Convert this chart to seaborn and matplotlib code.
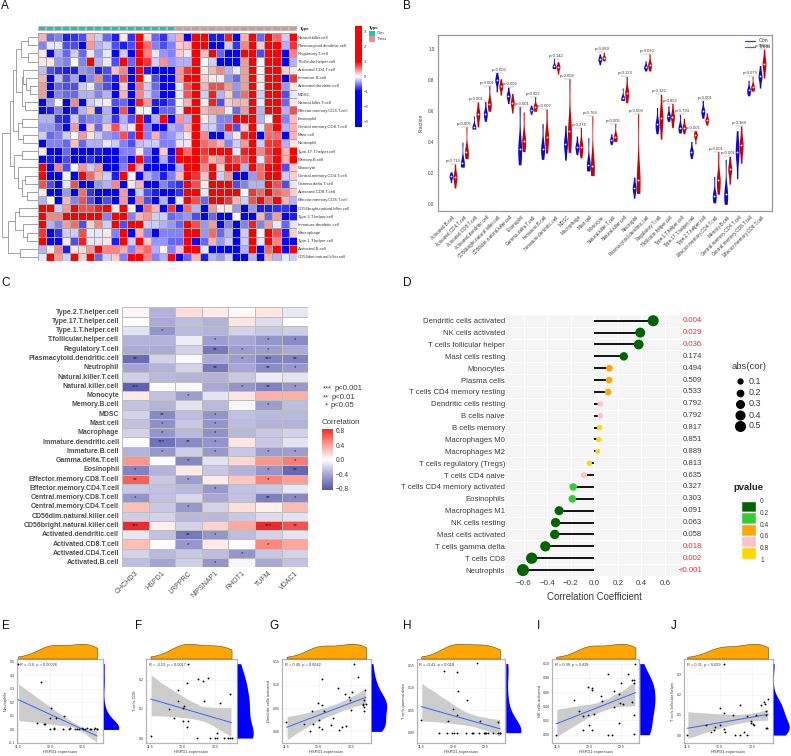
import numpy as np
import pandas as pd
import matplotlib
matplotlib.use('Agg')
import matplotlib.pyplot as plt
from matplotlib.colors import LinearSegmentedColormap, ListedColormap
from matplotlib.patches import Rectangle
import seaborn as sns

sns.set_theme(style='white')
plt.rcParams['font.family'] = ['Liberation Sans', 'DejaVu Sans']

# Panel A
A_ROWS = ['Natural.killer.cell', 'Plasmacytoid.dendritic.cell', 'Regulatory.T.cell', 'T.follicular.helper.cell',
          'Activated.CD4.T.cell', 'Immature.B.cell', 'Activated.dendritic.cell', 'MDSC', 'Natural.killer.T.cell',
          'Effector.memory.CD4.T.cell', 'Eosinophil', 'Central.memory.CD8.T.cell', 'Mast.cell', 'Neutrophil',
          'Type.17.T.helper.cell', 'Memory.B.cell', 'Monocyte', 'Central.memory.CD4.T.cell', 'Gamma.delta.T.cell',
          'Activated.CD8.T.cell', 'Effector.memory.CD8.T.cell', 'CD56bright.natural.killer.cell',
          'Type.2.T.helper.cell', 'Immature.dendritic.cell', 'Macrophage', 'Type.1.T.helper.cell',
          'Activated.B.cell', 'CD56dim.natural.killer.cell']
A_TYPE = [0] * 17 + [1] * 15
A_VALUES = [
    [.3,-.6,-.5,-.9,-.8,-.7,.3,-.2,-.6,-.9,.1,-.8,1.0,.15,-.6,-.8,-.3,.3,-1.5,1.5,1.5,-.9,-.9,.9,-1.2,.3,1.2,-.6,1.2,.6,-.2,1.2],
    [-.5,-.1,-.1,-.7,-.7,-1.2,.4,-.3,-.2,-.7,-.9,-.7,1.1,.6,-.5,-.7,-.5,.2,.25,1.2,1.2,-1.3,-1.3,-.2,-.8,.5,1.2,.2,1.2,1.1,-.3,.8],
    [.1,-1.2,-.3,-.6,-.2,-.6,-.1,-.4,-.1,-1.2,-.2,-1.2,1.2,.5,-.1,-.4,-.5,.2,-.1,1.2,.25,1.2,-.6,-1.3,-1.3,1.2,1.2,-.7,1.2,1.2,-1.3,.5],
    [.1,.1,-.4,-.5,.05,-.5,1.1,-.3,-.1,-.7,1.1,-.6,1.2,.8,-.2,.45,-.4,-.3,-.3,1.2,-.05,-.2,-1.3,-1.3,-1.2,.4,1.2,-.05,1.2,1.2,-1.3,-.3],
    [-.25,-.7,-.8,-.9,-.9,-.4,-.5,-.9,-.7,.25,.5,-1.3,1.2,-.9,-1.0,-1.2,-1.3,.4,.8,1.2,.1,.3,.5,-.3,-.1,.4,1.2,-.05,1.2,1.2,.2,.1],
    [.3,-1.3,-.25,-.7,-.35,-1.3,-.5,.5,-.7,-.9,.7,-1.3,1.3,.05,-.7,-1.0,-1.2,.4,1.0,1.2,.2,.1,.1,-.4,-.6,.4,1.2,.1,1.2,1.2,-1.3,.8],
    [.4,-1.3,-.6,-.7,-.7,-.2,-.1,-.5,-.7,-1.2,.2,-1.2,.6,-.2,-.6,-1.1,-1.2,-.1,.7,1.2,.3,.7,.7,.4,-.4,.4,1.2,.1,1.2,1.2,-.4,.1],
    [.4,-1.3,-.5,-.6,-.6,-.3,-.3,-.5,-.3,-1.1,.3,-1.3,.5,-.2,-.5,-1.1,-1.2,-.1,.7,1.2,-.2,.9,-.3,.2,-.5,.6,1.2,-.2,1.2,1.2,-.7,-.1],
    [-1.3,-.4,-.05,-1.3,.5,-1.3,-.2,-.1,.1,-.7,-.6,-1.3,.9,.4,-.9,-.9,-.7,-.05,.3,1.2,.1,.9,-.7,.2,.3,.3,1.2,-.1,1.2,1.2,-.6,.1],
    [-1.0,-.9,-.5,-1.2,-.8,-.3,.25,-.9,-.3,-1.3,.7,-1.3,.05,-.05,-1.2,-.6,-.6,-.1,1.2,1.2,.3,.4,.4,-.1,-.6,.4,1.2,-.3,1.2,1.2,-.3,.7],
    [-.3,-.3,-.8,-.9,-.2,-.6,-.5,-.5,-.3,-.8,-.3,-.7,1.2,-.9,-.3,1.2,-1.2,.4,-.3,1.2,.1,-.2,-.5,-.5,1.2,1.2,1.2,-.3,.05,1.2,-.5,.25],
    [-.4,-.4,-.6,-1.3,.4,-1.3,.2,-.6,.2,.7,-.2,.1,1.2,-.5,-1.3,-1.3,-.3,-.4,.3,1.2,-.2,-.2,-.5,.9,-.7,.2,1.2,-.1,.6,1.2,-.3,.3],
    [-.2,-.6,-.5,-.2,-.05,.4,.1,-.2,-.4,-.5,.7,-.7,1.2,-.5,.3,-.5,-.4,-.2,.1,1.2,.5,-1.0,-1.0,-.3,.1,.9,1.2,-1.2,.6,.6,-1.3,.3],
    [-1.1,-.5,-.5,-.6,.25,-.6,-.3,-.3,-.1,-.2,-.5,-.7,-.25,-.2,-.2,-.5,-.5,-.1,-.1,1.2,.6,.5,.3,-.5,-.2,.4,1.2,-.2,.8,.8,-.3,.1],
    [.1,-1.3,-1.3,-.6,-1.3,-1.3,-1.3,-.9,-1.3,-1.3,-.5,-.5,.1,-.5,-1.3,.2,-1.3,1.2,.6,1.2,.8,1.2,1.2,1.2,-.1,.9,1.2,.5,.8,1.2,.3,1.2],
    [-1.3,-.9,-1.3,-.7,-1.3,-1.3,-.8,-1.3,-1.3,-1.3,-.6,-1.2,1.2,-.7,-1.3,-.3,-.9,1.2,1.2,1.2,.7,.3,.4,.9,.7,.7,1.2,-.1,.7,1.2,.3,1.2],
    [1.1,-1.3,.5,-.7,.05,.4,-.2,.4,-1.3,-1.3,-.5,1.1,.3,-1.3,-1.1,-1.1,-1.0,-.3,1.2,1.2,.5,1.2,.2,1.2,1.2,-.3,1.2,.6,1.2,1.2,-.7,.2],
    [1.2,-1.3,-1.2,-.05,-1.3,1.1,.6,.3,-.2,-.9,1.2,.05,-1.3,-.3,-.5,-.9,-.5,.25,1.2,.8,.25,1.2,-.2,.4,-1.1,-1.1,-.4,.6,1.2,1.2,-.2,.2],
    [.7,-.7,-1.2,-.1,.7,-1.1,-1.2,-.4,-.3,.5,-1.3,.1,.3,-1.2,-1.2,-.5,-.7,-.8,1.2,.7,.1,1.2,1.2,1.2,-.7,-.5,-.3,-.3,1.2,.7,-.7,-.1],
    [.1,-1.3,-1.2,-.4,-1.1,.6,-.8,-1.1,-1.3,-1.2,.4,-1.3,-.2,-.7,-.9,-1.1,-1.2,-.8,1.2,1.2,-.1,1.0,1.2,1.2,1.2,0,.8,.6,1.2,.6,.5,.2],
    [-.3,0,-1.3,.3,-.5,.7,-.7,-1.3,-.7,-1.2,.4,-1.3,.5,-.7,-1.2,-.3,-1.1,-.1,1.2,.7,-.6,1.2,1.2,.8,.3,-.2,.7,1.2,.6,1.2,.3,-.3],
    [1.3,1.2,-.2,.4,1.2,.7,.7,.9,1.0,.1,1.1,.05,-1.1,.6,.3,-1.2,.8,-1.3,.6,-.3,-1.3,.4,.1,.1,-.4,-1.3,-.4,-.9,-.9,-.8,-.8,-1.3],
    [1.2,.5,.5,1.2,1.0,1.2,1.2,1.2,-.5,1.2,1.2,-.5,.3,.4,-.2,-.2,-.6,-.5,-.4,-.7,-1.2,-.6,-1.3,-1.3,.05,-1.3,-1.3,.3,-.6,.4,-1.3,-.9],
    [1.1,-.3,-.5,.4,.6,-.7,.2,.5,-.2,1.1,-.7,1.2,1.2,-.2,-.2,-.3,-.4,-.6,1.2,.7,-.4,.4,-1.3,-.5,-1.3,-.5,.9,-.5,.4,-.1,-.6,-.1],
    [.8,-1.3,-.8,-.2,-.2,.7,-.1,-.1,.1,-.5,1.2,-1.3,.3,-.5,-1.3,-.5,-.5,-.5,1.2,1.2,-.4,.6,-.6,-.3,-1.3,-.2,1.2,.05,1.1,.7,-.9,.2],
    [1.2,-1.3,-1.2,.1,-.7,.9,-.1,-.1,.1,-.9,1.2,-.2,1.2,.2,-.4,-.4,-.6,-.6,1.2,-1.0,-.6,.3,-.4,-.2,-1.3,-.2,1.2,-.1,1.2,.5,-1.3,-1.2],
    [-.3,.1,.5,-.9,.1,.15,.4,1.0,.5,.5,.3,-.5,.4,.6,-.3,.05,-.5,.25,1.2,1.2,-.1,-1.3,-1.3,-1.3,-1.3,-.3,1.2,-1.3,.6,1.2,-1.3,1.2],
    [-.1,1.0,.4,-.2,1.2,.2,1.2,-.6,-.2,.2,-.5,1.1,1.1,.5,-.5,-.3,1.2,-1.3,-.6,.3,-.9,-.3,-.4,-.2,-1.3,-1.2,-.3,-1.2,.3,-.3,-.1,-.2],
]
# row tree: (merge height, left branch, right branch)
A_TREE = (1.0,
          (.78,
           (.68,
            (.6, (.46, (.27, 0, 1), (.28, 2, 3)),
             (.45, (.42, 4, (.33, 5, (.22, 6, 7))), (.35, 8, 9))),
            (.55, (.45, 10, 11), (.4, 12, 13))),
           (.65, (.45, 14, 15), (.55, 16, (.45, (.35, 17, 18), (.3, 19, 20))))),
          (.82, (.62, (.52, 21, 22), (.42, 23, (.3, 24, 25))), (.5, 26, 27)))

# Panel B
B_CELLS = ['Activated.B.cell', 'Activated.CD4.T.cell', 'Activated.CD8.T.cell', 'Activated.dendritic.cell',
           'CD56bright.natural.killer.cell', 'CD56dim.natural.killer.cell', 'Eosinophil', 'Gamma.delta.T.cell',
           'Immature.B.cell', 'Immature.dendritic.cell', 'MDSC', 'Macrophage', 'Mast.cell', 'Monocyte',
           'Natural.killer.T.cell', 'Natural.killer.cell', 'Neutrophil', 'Plasmacytoid.dendritic.cell',
           'Regulatory.T.cell', 'T.follicular.helper.cell', 'Type.1.T.helper.cell', 'Type.17.T.helper.cell',
           'Type.2.T.helper.cell', 'Effector.memory.CD4.T.cell', 'Memory.B.cell', 'Central.memory.CD4.T.cell',
           'Central.memory.CD8.T.cell', 'Effector.memory.CD8.T.cell']
CON_LOW = [.14,.24,.485,.535,.725,.65,.255,.58,.29,.875,.285,.32,.215,.90,.385,.67,.04,.86,.455,.535,.46,.295,.555,.01,0,.165,.70,.75]
CON_MED = [.18,.265,.50,.585,.80,.70,.36,.61,.36,.89,.39,.37,.255,.935,.415,.685,.105,.885,.515,.57,.495,.34,.60,.055,.065,.34,.735,.825]
CON_HIGH = [.21,.40,.57,.665,.85,.755,.63,.64,.52,.94,.51,.44,.43,.97,.455,.75,.175,.925,.625,.635,.58,.405,.67,.18,.29,.475,.80,.895]
TRT_LOW = [.105,.295,.50,.60,.705,.59,.34,.60,.33,.84,.335,.30,.185,.925,.405,.655,.07,.86,.42,.495,.455,.39,.51,.065,.13,.265,.73,.815]
TRT_MED = [.175,.335,.58,.65,.76,.655,.41,.63,.435,.885,.47,.37,.245,.945,.435,.72,.16,.90,.555,.565,.495,.445,.545,.155,.225,.38,.755,.905]
TRT_HIGH = [.26,.50,.66,.765,.81,.715,.595,.695,.615,.92,.81,.495,.57,.98,.52,.825,.585,.97,.71,.65,.555,.475,.59,.34,.31,.505,.825,1.0]
B_P = ['p=0.716','p=0.005','p=0.001','p=0.001','p=0.003','p=0.002','p=0.001','p=0.027','p=0.007','p=0.142','p=0.004','p=0.276',
       'p=0.764','p=0.089','p=0.005','p=0.123','p=0.003','p=0.030','p=0.132','p=0.852','p=0.794','p=0.001','p=0.001','p=0.001',
       'p=0.001','p=0.389','p=0.079','p=0.004']

# Panel C
C_ROWS = ['Type.2.T.helper.cell', 'Type.17.T.helper.cell', 'Type.1.T.helper.cell', 'T.follicular.helper.cell',
          'Regulatory.T.cell', 'Plasmacytoid.dendritic.cell', 'Neutrophil', 'Natural.killer.T.cell',
          'Natural.killer.cell', 'Monocyte', 'Memory.B.cell', 'MDSC', 'Mast.cell', 'Macrophage',
          'Immature.dendritic.cell', 'Immature.B.cell', 'Gamma.delta.T.cell', 'Eosinophil',
          'Effector.memory.CD8.T.cell', 'Effector.memory.CD4.T.cell', 'Central.memory.CD8.T.cell',
          'Central.memory.CD4.T.cell', 'CD56dim.natural.killer.cell', 'CD56bright.natural.killer.cell',
          'Activated.dendritic.cell', 'Activated.CD8.T.cell', 'Activated.CD4.T.cell', 'Activated.B.cell']
C_GENES = ['CHCHD3', 'HSPD1', 'LRPPRC', 'NIPSNAP1', 'RHOT1', 'TUFM', 'VDAC1']
C_CORR = [
    [.05,-.35,.15,.1,.03,.12,-.1], [0,-.38,-.3,-.35,.12,-.15,0], [-.12,-.5,-.32,-.35,-.2,-.25,-.22],
    [-.35,-.35,-.08,-.45,-.4,-.5,-.55], [-.38,-.38,-.2,-.65,-.45,-.45,-.38], [-.72,-.2,-.02,-.38,-.45,-.6,-.6],
    [-.42,-.35,-.2,-.65,-.4,-.55,-.48], [-.22,-.32,-.35,-.35,-.25,-.08,-.12], [-.78,0,-.02,-.4,-.5,-.6,-.48],
    [.1,-.28,-.45,-.12,.12,.35,.35], [-.28,-.35,-.13,-.32,-.03,-.45,-.3], [-.2,-.55,-.3,-.5,-.28,-.33,-.32],
    [-.28,-.52,-.25,-.5,-.3,-.35,-.35], [-.2,-.5,-.32,-.52,-.33,-.25,-.2], [0,-.68,-.55,-.5,.12,-.25,-.12],
    [-.35,-.48,-.22,-.48,-.25,-.45,-.45], [.45,0,-.58,-.13,.18,.45,.55], [-.6,-.35,.1,-.25,-.35,-.5,-.75],
    [.65,-.25,-.45,.1,.25,.52,.42], [-.25,-.28,-.33,-.48,-.28,-.25,-.1], [-.5,-.28,-.18,-.4,-.28,-.62,-.55],
    [.28,-.25,-.48,-.2,.15,.08,.3], [-.22,-.2,-.33,-.33,-.25,-.15,-.13], [.85,.07,-.2,.2,.38,.85,.7],
    [-.1,-.28,-.65,-.5,-.3,-.2,-.12], [.28,0,-.48,.1,0,.5,.38], [-.2,-.32,-.25,-.3,-.5,-.25,-.2],
    [-.3,-.42,-.22,-.5,-.03,-.4,-.28]]
C_STARS = [
    ['','','','','','',''], ['','','','','','',''], ['','*','','','','',''], ['','','','*','','*','*'],
    ['','','','**','*','*',''], ['**','','','','*','***','**'], ['','','','**','','**','*'], ['','','','','','',''],
    ['***','','','','*','**','*'], ['','','*','','','',''], ['','','','','','*',''], ['','**','','*','','',''],
    ['','*','','*','','',''], ['','*','','*','','',''], ['','***','**','*','','',''], ['','*','','*','','*','*'],
    ['','','*','','','','*'], ['*','','','','','*','**'], ['**','','*','','','*',''], ['','','','*','','',''],
    ['*','','','','','**','*'], ['','','*','','','',''], ['','','','','','',''], ['***','','','','','***','**'],
    ['','','**','*','','',''], ['','','*','','','*',''], ['','','','','*','',''], ['','','','*','','','']]

# Panel D
D_CELLS = ['Dendritic cells activated', 'NK cells activated', 'T cells follicular helper', 'Mast cells resting',
           'Monocytes', 'Plasma cells', 'T cells CD4 memory resting', 'Dendritic cells resting', 'B cells naive',
           'B cells memory', 'Macrophages M0', 'Macrophages M2', 'T cells regulatory (Tregs)', 'T cells CD4 naive',
           'T cells CD4 memory activated', 'Eosinophils', 'Macrophages M1', 'NK cells resting',
           'Mast cells activated', 'T cells gamma delta', 'T cells CD8', 'Neutrophils']
D_COR = [.50,.39,.377,.25,.128,.125,.116,.05,.05,.045,.037,.028,-.043,-.088,-.18,-.187,-.30,-.33,-.337,-.417,-.533,-.607]
D_P = ['0.004','0.029','0.036','0.174','0.494','0.509','0.533','0.792','0.792','0.817','0.851','0.889','0.813','0.635',
       '0.327','0.303','0.091','0.063','0.058','0.018','0.002','<0.001']
D_BIN_COLORS = ['#006400', '#32CD32', '#FFA500', '#FFC0CB', '#FFD700']
D_BIN_TICKS = ['0', '0.2', '0.4', '0.6', '0.8', '1']
D_SIZE_LEGEND = [.1, .2, .3, .4, .5]

# Panels E-J, one x and one y list per panel
X_E = [11.5,11.865,12.01,11.79,11.91,11.92,12.005,12.09,12.22,12.0,12.06,12.07,12.2,12.3,12.31,12.39,12.42,12.46,12.5,12.52,12.55,12.58,12.63,12.65,12.69,12.71,12.73,12.74]
Y_E = [.486,.351,.155,.044,.037,.042,.086,.088,.098,0,0,.01,0,0,.01,0,0,0,.01,0,0,.01,0,0,0,.01,0,0]
X_F = [11.5,12.08,12.24,12.31,12.39,12.07,11.92,11.93,12.73,12.58,12.33,12.02,12.0,11.79,11.86,12.0,12.09,12.07,12.22,12.43,12.5,12.53,12.54,12.65,12.71,12.74,12.76]
Y_F = [.007,.256,.202,.195,.208,.189,.167,.128,.15,.122,.127,.11,.104,.10,.07,.059,.059,.037,0,0,0,.016,0,0,0,0,0]
X_G = [11.5,11.86,11.78,11.92,11.9,11.99,12.05,12.06,12.08,12.0,12.01,12.06,12.2,12.22,12.3,12.31,12.37,12.42,12.41,12.47,12.49,12.52,12.5,12.55,12.62,12.69,12.71,12.69,12.72,12.7,12.74,12.71]
Y_G = [.021,0,.017,.016,.045,.062,.113,.057,.045,.025,.009,.006,.014,.028,.094,.003,.009,.011,.08,.074,.067,.085,.047,.146,.118,.057,.067,.059,.09,.044,.058,.053]
X_H = [11.5,11.78,11.86,11.9,11.92,11.99,12.01,12.0,12.06,12.06,12.08,12.07,12.2,12.22,12.31,12.3,12.37,12.41,12.42,12.48,12.5,12.52,12.55,12.62,12.7,12.71,12.73,12.74]
Y_H = [.028,0,.137,0,.026,0,0,.053,.039,.136,.093,0,0,.072,0,0,.154,0,.025,0,0,0,0,0,0,.023,0,0]
X_I = [11.49,11.77,11.85,11.91,11.9,11.98,11.98,12.0,12.05,12.05,12.05,12.07,12.19,12.2,12.29,12.3,12.35,12.39,12.39,12.46,12.47,12.48,12.5,12.53,12.6,12.66,12.66,12.69,12.69,12.7,12.69,12.72]
Y_I = [0,.049,.033,.026,.006,.028,.067,.013,.066,.063,.007,.029,.054,.047,.086,0,0,.061,.039,.016,.057,.044,.073,.043,.086,.077,.046,.073,.077,.027,.001,.1]
X_J = [11.5,11.79,11.87,11.91,11.93,12.0,12.0,12.07,12.07,12.07,12.08,12.21,12.23,12.31,12.31,12.38,12.42,12.42,12.48,12.49,12.51,12.53,12.56,12.64,12.69,12.7,12.71,12.72,12.73,12.72,12.75]
Y_J = [0,.051,.016,.026,.038,.133,.048,.11,.03,.352,.013,.097,0,.148,0,.016,.093,0,.069,.059,.054,.051,.097,.148,.161,.152,.097,.036,.033,.12,.18]

SCATTER_PANELS = [
    (X_E, Y_E, 'Neutrophils', 'R = -0.6, p = 0.00026', [-.1, 0, .1, .2, .3, .4, .5], '{:.1f}'),
    (X_F, Y_F, 'T cells CD8', 'R = -0.53, p = 0.0017', [0, .1, .2], '{:.1f}'),
    (X_G, Y_G, 'Dendritic cells activated', 'R = 0.49, p = 0.0042', [0, .05, .10, .15], '{:.2f}'),
    (X_H, Y_H, 'T cells gamma delta', 'R = -0.41, p = 0.018', [0, .05, .10, .15], '{:.2f}'),
    (X_I, Y_I, 'NK cells activated', 'R = 0.39, p = 0.029', [0, .02, .04, .06, .08, .10], '{:.2f}'),
    (X_J, Y_J, 'T cells follicular helper', 'R = 0.31, p = 0.099', [0, .1, .2, .3], '{:.1f}'),
]
# left, right, right-density end, ymin, ymax, xmin, xmax
SCATTER_BOXES = [(17, 103, 119.5, -.10, .52, 11.484, 12.83), (146, 236.7, 254, -.017, .272, 11.43, 12.84),
                 (282, 370.7, 387.5, -.025, .156, 11.43, 12.81), (416.7, 505.3, 521.7, -.023, .164, 11.43, 12.82),
                 (552.3, 639.3, 655.7, -.0117, .1065, 11.43, 12.78), (684, 772.7, 790, -.039, .375, 11.45, 12.82)]

W, H = 791, 756
fig = plt.figure(figsize=(W / 100, H / 100), dpi=100)
TEXT = '#3a3a3a'


def px_axes(x0, y0, x1, y1):
    return fig.add_axes([x0 / W, 1 - y1 / H, (x1 - x0) / W, (y1 - y0) / H])


def draw_tree(ax, node):
    if not isinstance(node, tuple):
        return node + .5, 0
    h, left, right = node
    y1, h1 = draw_tree(ax, left)
    y2, h2 = draw_tree(ax, right)
    ax.plot([h1, h, h, h2], [y1, y1, y2, y2], color='#888888', lw=.55, solid_joinstyle='miter')
    return (y1 + y2) / 2, h


# ---- A: heatmap
blue_white_red = LinearSegmentedColormap.from_list(
    'bwr_sat', [(0, '#0000FF'), (.353, '#0000FF'), (.5, '#FFFFFF'), (.647, '#FF0000'), (1, '#FF0000')])
ax_a = px_axes(37.7, 33, 296.7, 261)
ax_acb = px_axes(355.3, 26, 362, 127)
sns.heatmap(np.array(A_VALUES), ax=ax_a, cmap=blue_white_red, vmin=-3.4, vmax=3.4, linewidths=.4, linecolor='#A8A8A8',
            xticklabels=False, yticklabels=A_ROWS, cbar_ax=ax_acb, cbar_kws={'ticks': [-3, -2, -1, 0, 1, 2, 3]})
ax_a.yaxis.tick_right()
ax_a.tick_params(axis='y', length=0, labelsize=3.1, rotation=0, pad=1, labelcolor=TEXT)
ax_acb.tick_params(length=0, labelsize=3.1, pad=1.5, labelcolor=TEXT)
ax_acb.yaxis.set_ticks_position('right')

ax_abar = px_axes(37.7, 26, 296.7, 30.5)
sns.heatmap(np.array([A_TYPE]), ax=ax_abar, cmap=ListedColormap(['#00CDCD', '#F08C87']), cbar=False, linewidths=.2,
            linecolor='#BBBBBB', xticklabels=False, yticklabels=False)

ax_tree = px_axes(2, 33, 37.5, 261)
draw_tree(ax_tree, A_TREE)
ax_tree.set_xlim(1.0, 0)
ax_tree.set_ylim(28, 0)
ax_tree.axis('off')

# ---- B: violins
rows_b = []
for i, cell in enumerate(B_CELLS):
    for v in [CON_LOW[i], CON_MED[i], CON_MED[i], CON_MED[i], CON_HIGH[i]]:
        rows_b.append((cell, 'Con', v))
    for v in [TRT_LOW[i], TRT_MED[i], TRT_MED[i], TRT_MED[i], TRT_HIGH[i]]:
        rows_b.append((cell, 'Treat', v))
df_b = pd.DataFrame(rows_b, columns=['cell', 'group', 'fraction'])

ax_b = px_axes(438, 35, 772, 211)
sns.violinplot(data=df_b, x='cell', y='fraction', hue='group', order=B_CELLS, hue_order=['Con', 'Treat'],
               palette={'Con': '#0A0ACD', 'Treat': '#C80000'}, width=.7, gap=.03, cut=0, inner=None, bw_adjust=.8,
               density_norm='width', linewidth=0, saturation=1, legend=False, ax=ax_b)
pos = np.arange(len(B_CELLS))
ax_b.scatter(pos - .175, CON_MED, s=1.8, color='white', zorder=5, linewidths=0)
ax_b.scatter(pos + .175, TRT_MED, s=1.8, color='white', zorder=5, linewidths=0)
tops = np.maximum(CON_HIGH, TRT_HIGH)
ax_b.hlines(tops, pos - .3, pos + .3, color='#888888', lw=.3)
for i, label in enumerate(B_P):
    ax_b.text(i, tops[i] + .006, label, fontsize=3, color=TEXT, ha='center', va='bottom')
ax_b.set_xlim(-1.31, 27.87)
ax_b.set_ylim(-.043, 1.092)
ax_b.set_yticks([0, .2, .4, .6, .8, 1.0])
ax_b.set_xticks(pos)
ax_b.set_xticklabels(B_CELLS, rotation=45, ha='right', rotation_mode='anchor')
ax_b.tick_params(axis='both', labelsize=3.3, length=1.5, width=.4, color='#666666', labelcolor=TEXT, pad=1)
ax_b.set_xlabel('')
ax_b.set_ylabel('Fraction', fontsize=3.6, color=TEXT, labelpad=3)
for s in ax_b.spines.values():
    s.set_color('#999999')
    s.set_linewidth(.9)

# ---- C: correlation heatmap
red_navy = LinearSegmentedColormap.from_list('corr', ['#5257AC', '#A5A4D3', '#FFFFFF', '#FF9C8F', '#EE2A2A'])
ax_c = px_axes(122, 307.5, 308.3, 567.3)
ax_ccb = px_axes(321.7, 429, 333, 490)
sns.heatmap(np.array(C_CORR), ax=ax_c, cmap=red_navy, vmin=-.84, vmax=.855, linewidths=.7, linecolor='#BEBEBE',
            annot=np.array(C_STARS), fmt='', annot_kws={'size': 4.4, 'color': '#222222'},
            xticklabels=C_GENES, yticklabels=C_ROWS, cbar_ax=ax_ccb, cbar_kws={'ticks': [-.8, -.4, 0, .4, .8]})
ax_c.tick_params(axis='y', length=0, labelsize=5, rotation=0, pad=2, labelcolor='#4d4d4d')
for t in ax_c.get_yticklabels():
    t.set_fontweight('bold')
ax_c.tick_params(axis='x', length=0, labelsize=5, pad=2, labelcolor='#4d4d4d')
plt.setp(ax_c.get_xticklabels(), rotation=45, ha='right', rotation_mode='anchor')
ax_ccb.tick_params(length=0, labelsize=4.8, pad=2, labelcolor=TEXT)
ax_ccb.set_yticklabels(['\u22120.8', '\u22120.4', '0.0', '0.4', '0.8'])

# ---- D: lollipop
d_p_num = [float(p.strip('<')) for p in D_P]
df_d = pd.DataFrame({'row': np.arange(len(D_CELLS)), 'cor': D_COR, 'size': np.abs(D_COR),
                     'bin': np.minimum((np.array(d_p_num) // .2).astype(int), 4)})
ax_d = px_axes(505, 314.8, 682, 576)
ax_d.set_facecolor('#F5F5F5')
ax_d.hlines(df_d['row'], 0, df_d['cor'], color='black', lw=1.3, zorder=2)
sns.scatterplot(data=df_d, x='cor', y='row', hue='bin', palette=dict(enumerate(D_BIN_COLORS)), size='size',
                sizes=(13, 75), size_norm=(.028, .607), linewidth=0, legend=False, zorder=3, ax=ax_d)
ax_d.set_xlim(-.76, .745)
ax_d.set_ylim(21.5, -.5)
ax_d.set_xticks([-.6, -.4, -.2, 0, .2, .4, .6])
ax_d.set_xticklabels(['\u22120.6', '\u22120.4', '\u22120.2', '0.0', '0.2', '0.4', '0.6'])
ax_d.set_yticks(df_d['row'])
ax_d.set_yticklabels(D_CELLS)
ax_d.set_yticks(df_d['row'][:-1] + .5, minor=True)
ax_d.grid(True, axis='x', color='white', lw=.6)
ax_d.grid(True, axis='y', which='minor', color='white', lw=.6)
ax_d.grid(False, axis='y', which='major')
ax_d.set_axisbelow(True)
ax_d.tick_params(which='both', length=0)
ax_d.tick_params(axis='y', labelsize=5.6, pad=0, labelcolor=TEXT)
ax_d.tick_params(axis='x', labelsize=5.8, pad=3, labelcolor=TEXT)
ax_d.set_ylabel('')
ax_d.set_xlabel('Correlation Coefficient', fontsize=6.9, color=TEXT, labelpad=2)
ax_d.xaxis.set_label_coords((594.3 - 505) / 177, -.062)
for s in ax_d.spines.values():
    s.set_visible(False)
for i, p in enumerate(D_P):
    ax_d.text(.9166, i, p, fontsize=5.6, ha='right', va='center', clip_on=False,
              color='#FF2020' if d_p_num[i] < .05 else TEXT)

ax_pbar = px_axes(740.7, 500.7, 756, 559)
ax_pbar.barh(np.arange(5), [1] * 5, height=1, color=D_BIN_COLORS)
ax_pbar.set_xlim(0, 1)
ax_pbar.set_ylim(4.5, -.5)
ax_pbar.set_xticks([])
ax_pbar.set_yticks(np.arange(6) - .5)
ax_pbar.set_yticklabels(D_BIN_TICKS)
ax_pbar.yaxis.tick_right()
ax_pbar.tick_params(axis='y', length=0, labelsize=4.8, pad=3, labelcolor=TEXT)
for s in ax_pbar.spines.values():
    s.set_visible(False)

# ---- E-J: scatter with marginal densities
for (xs, ys, ylabel, stat, yticks, yfmt), box in zip(SCATTER_PANELS, SCATTER_BOXES):
    left, right, dens_end, ymin, ymax, xmin, xmax = box
    ax = px_axes(left, 659, right, 743)
    sns.regplot(x=xs, y=ys, ax=ax, ci=95, seed=1, n_boot=400,
                scatter_kws={'s': 1.8, 'color': 'black', 'linewidths': 0, 'alpha': 1, 'zorder': 4},
                line_kws={'color': '#3366FF', 'lw': .7, 'zorder': 3})
    ax.collections[1].set_facecolor('#C4C4C4')
    ax.collections[1].set_alpha(.85)
    ax.collections[1].set_zorder(2)
    ax.set_xlim(xmin, xmax)
    ax.set_ylim(ymin, ymax)
    ax.set_xticks([11.5, 12.0, 12.5])
    ax.set_xticklabels(['11.5', '12.0', '12.5'])
    ax.set_yticks(yticks)
    ax.set_yticklabels([yfmt.format(t) for t in yticks])
    ax.tick_params(labelsize=2.6, length=1, width=.3, pad=.6, labelcolor=TEXT, color='#666666')
    ax.grid(True, color='#EEEEEE', lw=.4)
    ax.set_axisbelow(True)
    ax.set_xlabel('HSPD1 expression', fontsize=2.9, color=TEXT, labelpad=.5)
    ax.set_ylabel(ylabel, fontsize=2.9, color=TEXT, labelpad=1)
    for s in ax.spines.values():
        s.set_color('#B5B5B5')
        s.set_linewidth(.9)
    ax.text(.03, .93, stat, transform=ax.transAxes, fontsize=2.8, color=TEXT, va='center', ha='left')

    ax_top = px_axes(left, 643, right, 658.5)
    sns.kdeplot(x=xs, ax=ax_top, fill=True, color='#FFA500', alpha=1, linewidth=.4, edgecolor='#5a4a20', cut=0, bw_adjust=1.1)
    ax_top.set_xlim(xmin, xmax)
    ax_top.set_ylim(0, None)
    ax_top.axis('off')

    ax_side = px_axes(right + .5, 659, dens_end, 743)
    sns.kdeplot(y=ys, ax=ax_side, fill=True, color='#0000FF', alpha=1, linewidth=0, cut=0, bw_adjust=1.0)
    ax_side.set_ylim(ymin, ymax)
    ax_side.set_xlim(0, None)
    ax_side.axis('off')

# ---- overlay: panel letters and hand-placed legends
ov = fig.add_axes([0, 0, 1, 1], zorder=20)
ov.patch.set_alpha(0)
ov.set_xlim(0, W)
ov.set_ylim(H, 0)
ov.axis('off')
for letter, x, y in [('A', 1, 6), ('B', 403, 6), ('C', 1, 283), ('D', 403, 283), ('E', 2, 626), ('F', 135, 626),
                     ('G', 269, 626), ('H', 403, 626), ('I', 537, 626), ('J', 671, 626)]:
    ov.text(x, y, letter, fontsize=8.5, color='#111111', ha='left', va='center')

ov.text(300, 29, 'Type', fontsize=3.2, fontweight='bold', color='#222222', va='center')
ov.text(369, 28, 'Type', fontsize=3.2, fontweight='bold', color='#222222', va='center')
ov.add_patch(Rectangle((369, 30.5), 6, 5.7, facecolor='#00CDCD', edgecolor='none'))
ov.add_patch(Rectangle((369, 36.2), 6, 5.7, facecolor='#F08C87', edgecolor='none'))
ov.text(376.5, 33.4, 'Con', fontsize=3.1, color=TEXT, va='center')
ov.text(376.5, 39, 'Treat', fontsize=3.1, color=TEXT, va='center')

ov.plot([745, 755], [40.7, 40.7], color='#3030E0', lw=.9)
ov.plot([745, 755], [47, 47], color='#E83030', lw=.9)
ov.text(759, 40.7, 'Con', fontsize=3.8, color=TEXT, va='center')
ov.text(759, 47, 'Treat', fontsize=3.8, color=TEXT, va='center')

for stars, y, x_text in [('***', 389, 334.5), ('**', 397.5, 331.5), ('*', 405.5, 330.5)]:
    ov.text(x_text - 3, y, stars, fontsize=5.6, color=TEXT, ha='right', va='center')
    ov.text(x_text, y, {'***': 'p<0.001', '**': 'p<0.01', '*': 'p<0.05'}[stars], fontsize=5.6, color=TEXT, va='center')
ov.text(321.7, 422, 'Correlation', fontsize=5.7, color=TEXT, va='center')

ov.text(731.7, 366.7, 'abs(cor)', fontsize=6.8, color=TEXT, va='center')
for value, y in zip(D_SIZE_LEGEND, [381, 392.5, 403.7, 415, 426]):
    ov.scatter([740], [y], s=13 + (value - .028) / (.607 - .028) * 62, color='black', linewidths=0)
    ov.text(749, y, f'{value:.1f}', fontsize=6.5, color=TEXT, va='center')
ov.text(733, 487, 'pvalue', fontsize=6.8, fontweight='bold', color='#222222', va='center')

fig.savefig('out.png', dpi=100)
